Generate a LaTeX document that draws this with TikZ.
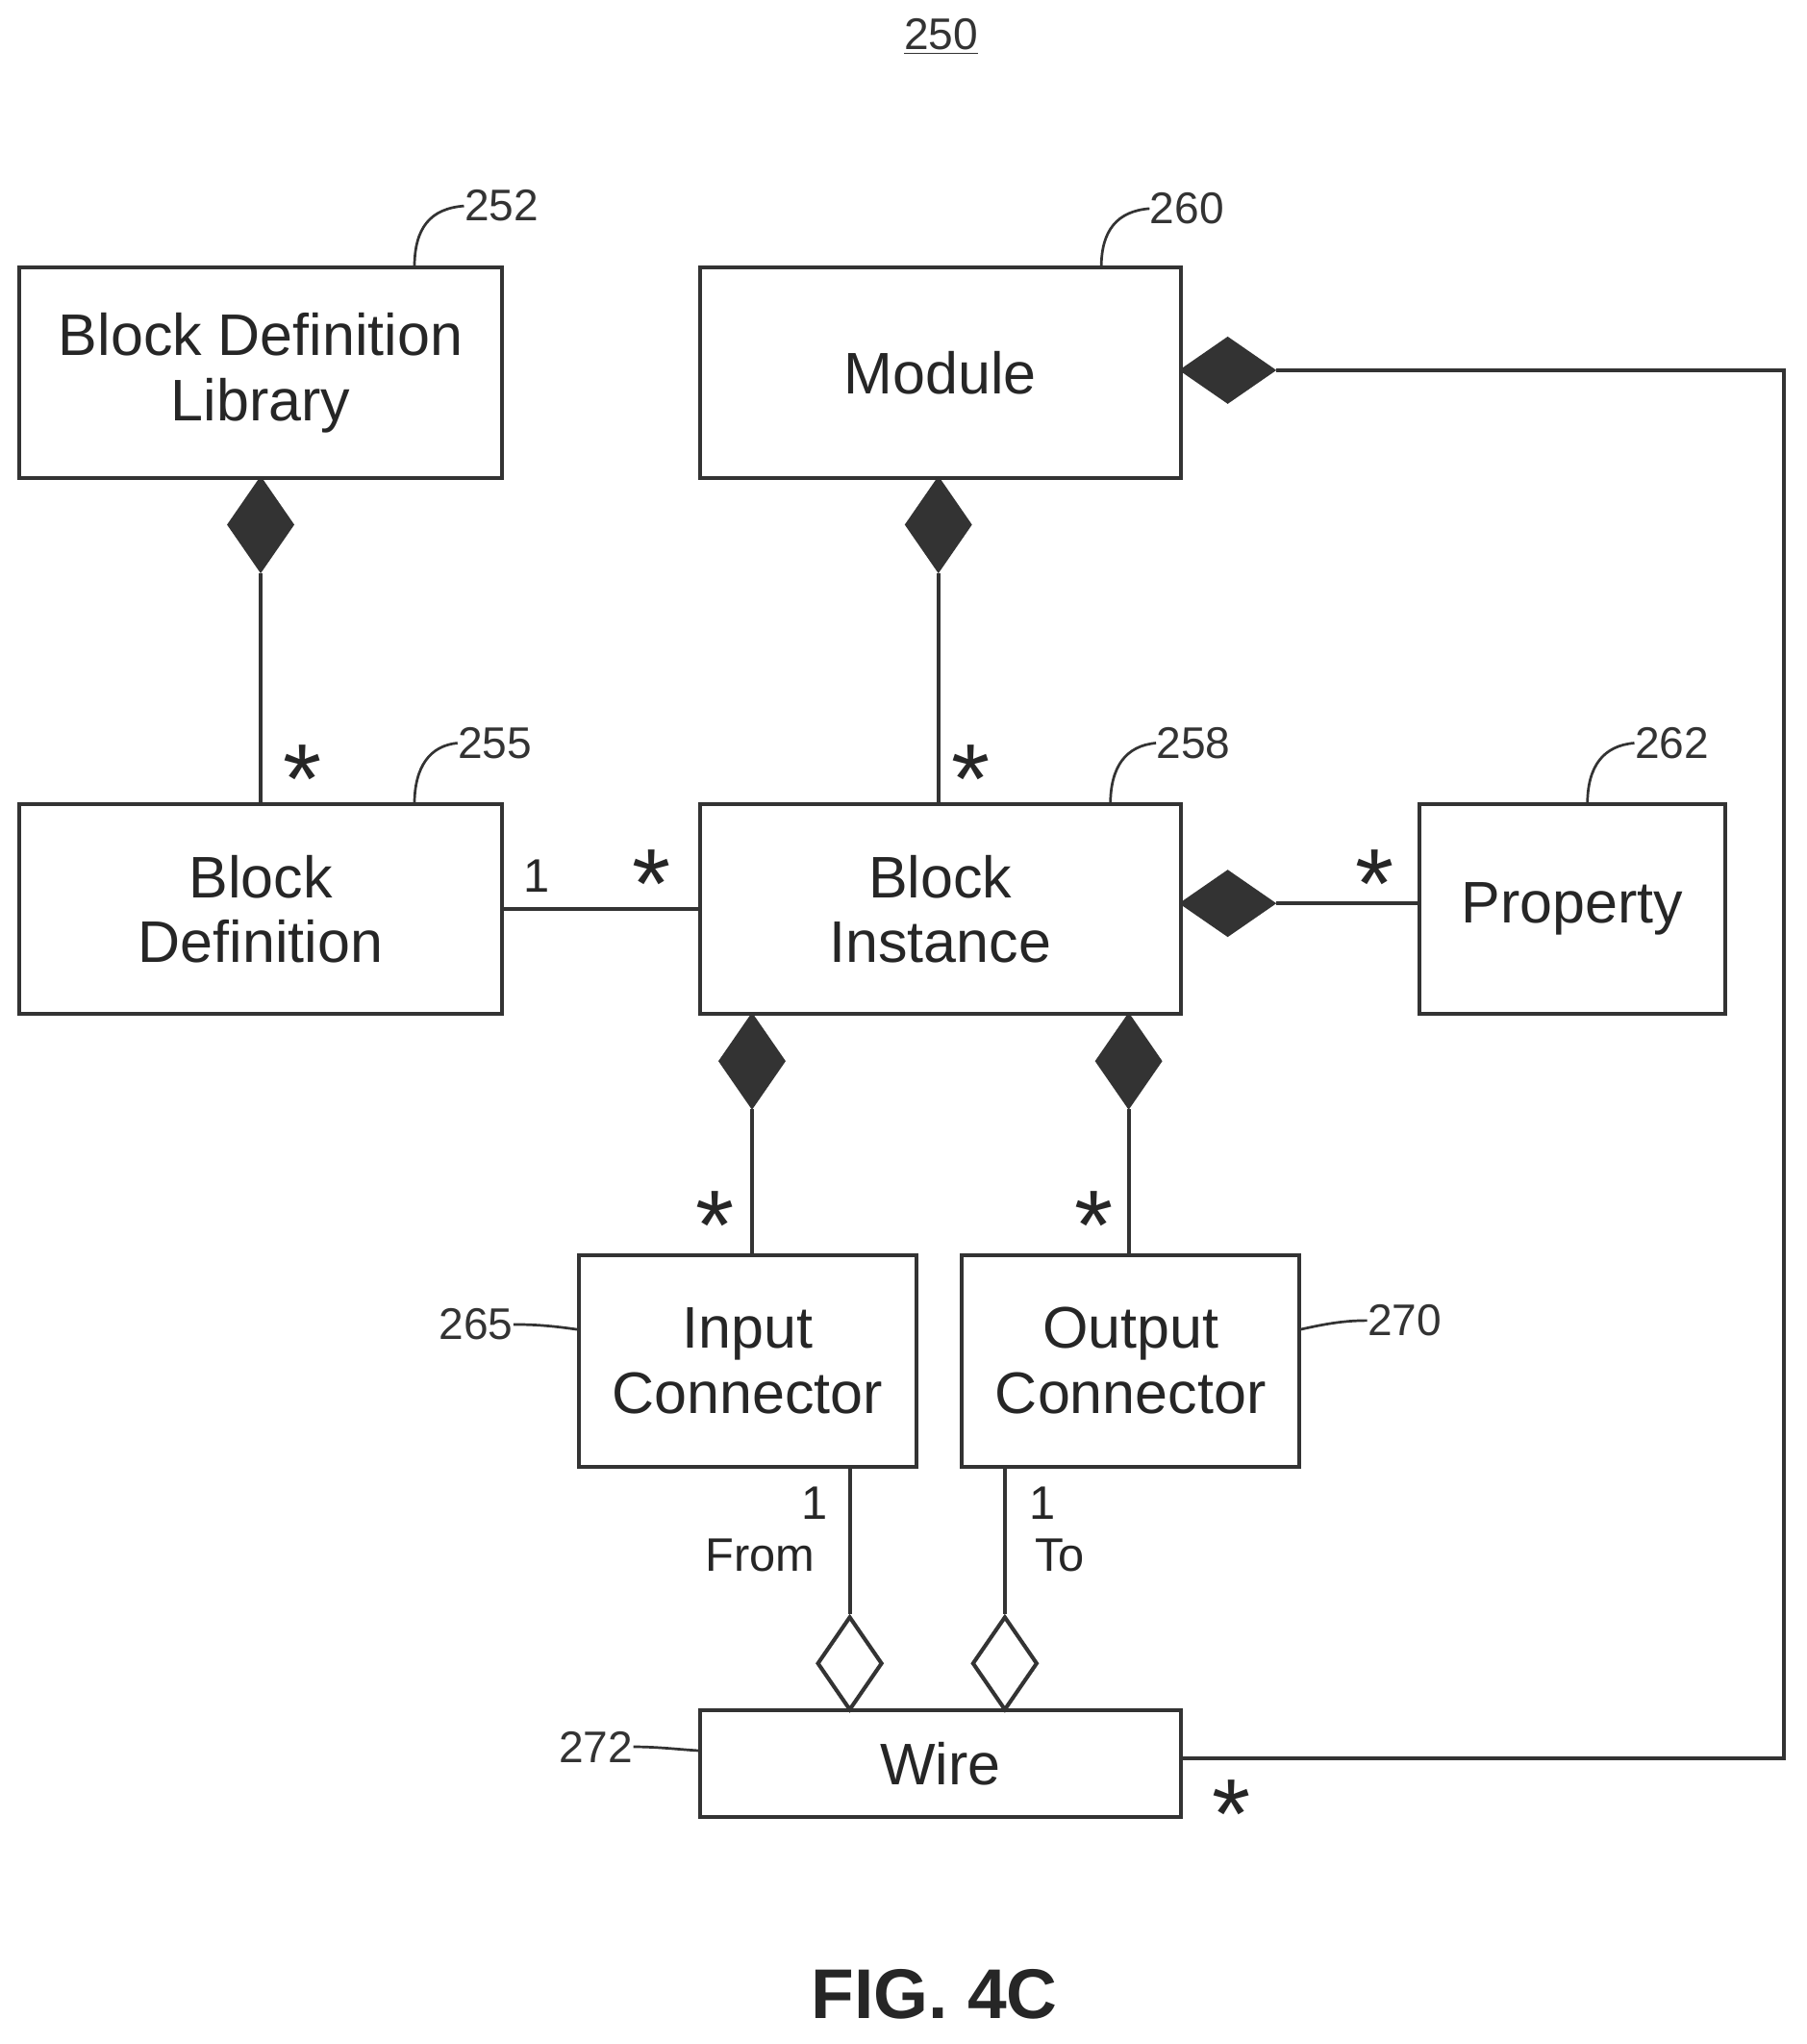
\documentclass[tikz,border=0pt]{standalone}
\usepackage{fontspec}
\setmainfont{Liberation Sans}
\usetikzlibrary{shapes.geometric}
\begin{document}
\begin{tikzpicture}[x=0.5pt,y=-0.5pt,
  box/.style={draw=black!80,line width=1.5pt,minimum width=#1,inner sep=0pt,align=center,font=\fontsize{22.5}{25}\selectfont,text=black!85},
  ln/.style={draw=black!80,line width=1.5pt},
  fd/.style={diamond,draw=black!80,fill=black!80,line width=1pt,inner sep=0pt,minimum width=25pt,minimum height=36pt},
  fdh/.style={diamond,draw=black!80,fill=black!80,line width=1pt,inner sep=0pt,minimum width=36pt,minimum height=25pt},
  hd/.style={diamond,draw=black!80,fill=white,line width=1.5pt,inner sep=0pt,minimum width=25pt,minimum height=36pt},
  ast/.style={font=\fontsize{38}{38}\selectfont,inner sep=0pt,text=black!85},
  lab/.style={font=\fontsize{18}{20}\selectfont,inner sep=0pt,text=black!85},
  ref/.style={font=\fontsize{17}{19}\selectfont,inner sep=0pt,text=black!80},
  lead/.style={draw=black!80,line width=1pt}]
\useasboundingbox (0,0) rectangle (1386,1568);
\node[box=185pt,minimum height=81pt] (bdl) at (200,286) {Block Definition\\Library};
\node[box=184.5pt,minimum height=81pt] (mod) at (721.5,286) {Module};
\node[box=185pt,minimum height=80.5pt] (bd) at (200,697.5) {Block\\Definition};
\node[box=184.5pt,minimum height=80.5pt] (bi) at (721.5,697.5) {Block\\Instance};
\node[box=117.5pt,minimum height=80.5pt] (prop) at (1206.5,697.5) {Property};
\node[box=129.5pt,minimum height=81pt] (ic) at (573.5,1044) {Input\\Connector};
\node[box=129.5pt,minimum height=81pt] (oc) at (867.5,1044) {Output\\Connector};
\node[box=184.5pt,minimum height=41pt] (wire) at (721.5,1353) {Wire};
% diamonds
\node[fd] (d1) at (200,402.5) {};
\node[fd] (d2) at (720,402.5) {};
\node[fdh] (d3) at (942,693) {};
\node[fd] (d4) at (577,814) {};
\node[fd] (d5) at (866,814) {};
\node[fdh] (d6) at (942,284) {};
\node[hd] (h1) at (652,1276) {};
\node[hd] (h2) at (771,1276) {};
% connectors
\draw[ln] (d1.south) -- (d1.south |- bd.north);
\draw[ln] (d2.south) -- (d2.south |- bi.north);
\draw[ln] (d3.east) -- (prop.west |- d3.east);
\draw[ln] (bd.east) -- (bi.west);
\draw[ln] (d4.south) -- (d4.south |- ic.north);
\draw[ln] (d5.south) -- (d5.south |- oc.north);
\draw[ln] (h1.north |- ic.south) -- (h1.north);
\draw[ln] (h2.north |- oc.south) -- (h2.north);
\coordinate (c1) at (1369,284);
\coordinate (c2) at (1369,1349);
\draw[ln] (d6.east) -- (c1) -- (c2) -- (wire.east |- c2);
% multiplicities
\node[ast] at (232,598) {*};
\node[ast] at (745,598) {*};
\node[ast] at (500,678) {*};
\node[ast] at (1055,678) {*};
\node[ast] at (549,940) {*};
\node[ast] at (839,940) {*};
\node[ast] at (945,1392) {*};
\node[lab] at (412,672) {1};
\node[lab] at (625,1153) {1};
\node[lab] at (583,1193) {From};
\node[lab] at (800,1153) {1};
\node[lab] at (813,1193) {To};
% refs
\node[ref,anchor=west] (r252) at (356,158) {252};
\draw[lead] (318,205) .. controls (318,175) and (330,160) .. (r252.west);
\node[ref,anchor=west] (r260) at (882,160) {260};
\draw[lead] (845,205) .. controls (845,177) and (857,162) .. (r260.west);
\node[ref,anchor=west] (r255) at (351,570) {255};
\draw[lead] (318,617) .. controls (318,588) and (330,572) .. (r255.west);
\node[ref,anchor=west] (r258) at (887,570) {258};
\draw[lead] (852,617) .. controls (852,588) and (864,572) .. (r258.west);
\node[ref,anchor=west] (r262) at (1254,570) {262};
\draw[lead] (1218,617) .. controls (1218,588) and (1230,572) .. (r262.west);
\node[ref,anchor=east] (r265) at (394,1016) {265};
\draw[lead] (r265.east) .. controls (415,1016) and (430,1018) .. (444,1020);
\node[ref,anchor=west] (r270) at (1049,1013) {270};
\draw[lead] (997,1020) .. controls (1015,1016) and (1030,1013) .. (r270.west);
\node[ref,anchor=east] (r272) at (486,1340) {272};
\draw[lead] (r272.east) .. controls (505,1340) and (520,1342) .. (537,1343);
\node[ref] (r250) at (722,28) {\underline{250}};
\node[font=\fontsize{27}{30}\selectfont\bfseries,text=black!85] (fig) at (717,1530) {FIG. 4C};
\end{tikzpicture}
\end{document}
